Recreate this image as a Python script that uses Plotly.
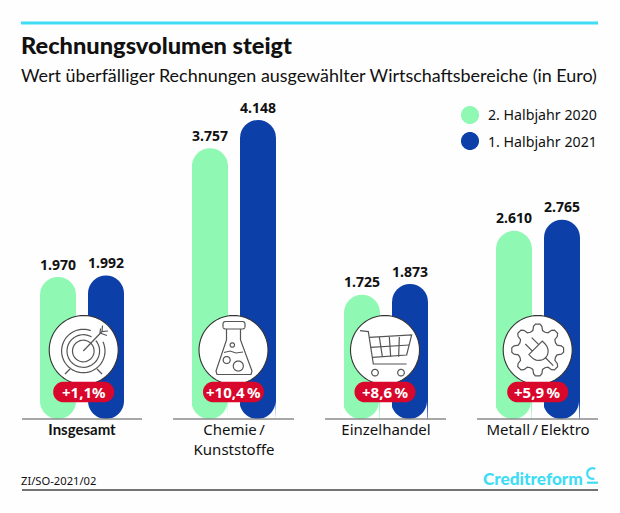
import math
import plotly.graph_objects as go

categories = ['<span style="font-family:Lato"><b>Insgesamt</b></span>', "Chemie\u2009/<br>Kunststoffe", "Einzelhandel", "Metall\u2009/\u2009Elektro"]
halbjahr_2020 = [1970, 3757, 1725, 2610]
halbjahr_2021 = [1992, 4148, 1873, 2765]
changes = ["+1,1%", "+10,4\u2009%", "+8,6\u2009%", "+5,9\u2009%"]
series_names = ["2. Halbjahr 2020", "1. Halbjahr 2021"]
title = "Rechnungsvolumen steigt"
subtitle = "Wert überfälliger Rechnungen ausgewählter Wirtschaftsbereiche (in Euro)"
source = "ZI/SO-2021/02"
brand = "Creditreform"

W, H = 620, 513
GREEN, BLUE, CYAN, RED = "#8ff8b3", "#0d3fa8", "#3fdcf6", "#d8072b"
INK, ICON, BG = "#111111", "#555555", "#fefefe"
FONT = "Noto Sans"
NARROW = "Lato"
BASE_Y, TOP_Y = 419, 100
PX_PER_UNIT = (419 - 120) / 4148
CENTERS = [82, 233.5, 385, 537]
ICON_X = [83.7, 233.5, 385, 537.7]
AXIS_SEG = [(22, 142), (173, 294), (325, 446), (477, 598)]


def px(x):
    return x / W


def py(y):
    return 1 - y / H


def to_path(points, close=False):
    s = "M" + " L".join(f"{px(x):.5f},{py(y):.5f}" for x, y in points)
    return s + (" Z" if close else "")


def arc(cx, cy, r, a0=0, a1=360, n=48):
    return [(cx + r * math.cos(math.radians(a0 + (a1 - a0) * i / n)),
             cy - r * math.sin(math.radians(a0 + (a1 - a0) * i / n))) for i in range(n + 1)]


shapes = []


def line(points, color=ICON, width=1.2, close=False, fill=None):
    shapes.append(dict(type="path", xref="paper", yref="paper", layer="above",
                       path=to_path(points, close),
                       line=dict(color=color, width=width),
                       fillcolor=fill if fill else "rgba(0,0,0,0)"))


def rounded(x0, y0, x1, y1, r, fill, stroke=None, width=0):
    pts = arc(x1 - r, y0 + r, r, 90, 0, 12) + arc(x1 - r, y1 - r, r, 0, -90, 12) \
        + arc(x0 + r, y1 - r, r, 270, 180, 12) + arc(x0 + r, y0 + r, r, 180, 90, 12)
    shapes.append(dict(type="path", xref="paper", yref="paper", layer="above",
                       path=to_path(pts, True), fillcolor=fill,
                       line=dict(color=stroke or fill, width=width)))


# rounded feet of the bars
for c in CENTERS:
    for bx in (c - 24, c + 24):
        for sign in (-1, 1):
            edge = bx + sign * 18.5
            a = (270, 360) if sign > 0 else (180, 270)
            pts = [(edge, BASE_Y + 0.5)] + arc(bx, BASE_Y - 18, 18, a[0], a[1], 14)
            line(pts, color=BG, width=0, close=True, fill=BG)

# axis segments
for a, b in AXIS_SEG:
    line([(a, 419), (b, 419)], color="#8a8a8a", width=1.6)

# header and footer rules
line([(21, 23), (598, 23)], color=CYAN, width=3)
line([(22, 490), (598, 490)], color="#444444", width=1.6)

# circles
for x in ICON_X:
    line(arc(x, 350, 34.5, n=72), color="#333333", width=1.1, close=True, fill="#ffffff")

# target icon
tx, ty = 83.3, 351
line(arc(tx, ty, 21.7, 70, 385), width=1.2)
line(arc(tx, ty, 16.3, 60, 400), width=1.2)
line(arc(tx, ty, 10.8, 50, 410), width=1.2)
line([(tx, ty), (102, 331.5)])
line([(100, 333), (100.5, 328.5)])
line([(100, 333), (107, 335.5)])
line([(102.5, 325.5), (102, 331.5), (108, 331)])
line([(65, 374), (70, 369)])
line([(102, 374), (97, 369)])

# flask icon
line([(226.5, 329), (226.5, 340), (216, 371), (217, 374.5), (251, 374.5), (252, 371),
      (240.5, 340), (240.5, 329)])
rounded(223, 321.5, 245, 329, 2.5, "#ffffff", ICON, 1.2)
line([(224, 352.5), (230, 351), (236, 353), (243, 352)])
line(arc(232.3, 345, 2.2))
line(arc(226.7, 360, 3.5))
line(arc(238.3, 366, 5))

# cart icon
o = 310
z = lambda x, y: (o + x / 3, 240 + y / 3)
line([z(150, 272), z(175, 275), z(190, 372), z(290, 372)])
line([z(178, 292), z(305, 285), z(290, 345), z(187, 352)])
line([z(182, 322), z(298, 315)])
for a, b in ((208, 217), (238, 242), (268, 266)):
    line([z(a, 291), z(b, 350)])
line(arc(*z(195, 398), 3.3))
line(arc(*z(273, 398), 3.3))

# gear icon
gx, gy = 537.7, 350
teeth = []
for i in range(8):
    m = 90 + i * 45
    for da, r in ((-22.5, 19.2), (-14, 20), (-10, 24), (-5, 26), (5, 26), (10, 24), (14, 20)):
        a = math.radians(m + da)
        teeth.append((gx + r * math.cos(a), gy - r * math.sin(a)))
line(teeth, close=True)
# plug
rot = lambda x, y: (gx + (x + y) * 0.7071, gy + (y - x) * 0.7071)
line([rot(-9.5, -3), rot(9.5, -3), rot(9.5, 1)] +
     [rot(9.5 * math.cos(math.radians(t)), 1 + 10 * math.sin(math.radians(t))) for t in range(0, 181, 15)] +
     [rot(-9.5, 1)], close=True)
line([rot(-4.5, -3), rot(-4.5, -13)])
line([rot(4.5, -3), rot(4.5, -13)])
line([rot(0, 11), rot(0, 22)])

# percentage pills
for x in ICON_X:
    rounded(x - 30.5, 381.7, x + 30.5, 402.3, 10.3, RED)

# legend dots
r_leg = 9
line(arc(470, 115, r_leg), color=GREEN, width=0, close=True, fill=GREEN)
line(arc(470, 141, r_leg), color=BLUE, width=0, close=True, fill=BLUE)

# brand mark
line(arc(592.5, 473.5, 5.3, 60, 290), color=CYAN, width=2.2)
line([(587, 482.7), (598, 482.7)], color=CYAN, width=2.2)


def note(text, x, y, size, color=INK, anchor="left", weight="normal", family=FONT):
    return dict(text=text, x=px(x), y=py(y), xref="paper", yref="paper",
                xanchor=anchor, yanchor="middle", showarrow=False, borderpad=0, borderwidth=0,
                font=dict(size=size, color=color, family=family, weight=weight))


annotations = [
    note(title, 21, 45, 23.6, weight=900, family=NARROW),
    note(subtitle, 21, 75, 17.95, family=NARROW),
    note(series_names[0], 488, 115, 14.2),
    note(series_names[1], 488, 141, 14.2),
    note(source, 21, 480, 11.2),
    note(brand, 582.5, 478, 17.2, color=CYAN, anchor="right", weight=900, family=NARROW),
]
for x, t in zip(ICON_X, changes):
    annotations.append(note(t, x, 392, 15, color="#ffffff", anchor="center", weight="bold"))

common = dict(texttemplate="%{y:,.0f}", textposition="outside", cliponaxis=False,
              textfont=dict(size=16, color=INK, family=FONT, weight="bold"),
              showlegend=False, hoverinfo="skip")
fig = go.Figure()
fig.add_trace(go.Bar(name=series_names[0], x=categories, y=halbjahr_2020,
                     marker=dict(color=GREEN, cornerradius=18, line_width=0), **common))
fig.add_trace(go.Bar(name=series_names[1], x=categories, y=halbjahr_2021,
                     marker=dict(color=BLUE, cornerradius=18, line_width=0), **common))

fig.update_layout(
    width=W, height=H, margin=dict(l=0, r=0, t=0, b=0),
    paper_bgcolor=BG, plot_bgcolor=BG, separators=",.",
    barmode="group", bargap=1 - 96 / 152, bargroupgap=0.25,
    xaxis=dict(domain=[px(6), px(614)], showgrid=False, zeroline=False, showline=False,
               ticks="", tickfont=dict(size=15, color=INK, family=FONT), fixedrange=True),
    yaxis=dict(domain=[py(BASE_Y), py(TOP_Y)], range=[0, (BASE_Y - TOP_Y) / PX_PER_UNIT],
               visible=False, fixedrange=True),
    shapes=shapes, annotations=annotations, showlegend=False,
)
fig.write_html("out.html", config=dict(displayModeBar=False),
               post_script="document.body.style.margin='0';")
